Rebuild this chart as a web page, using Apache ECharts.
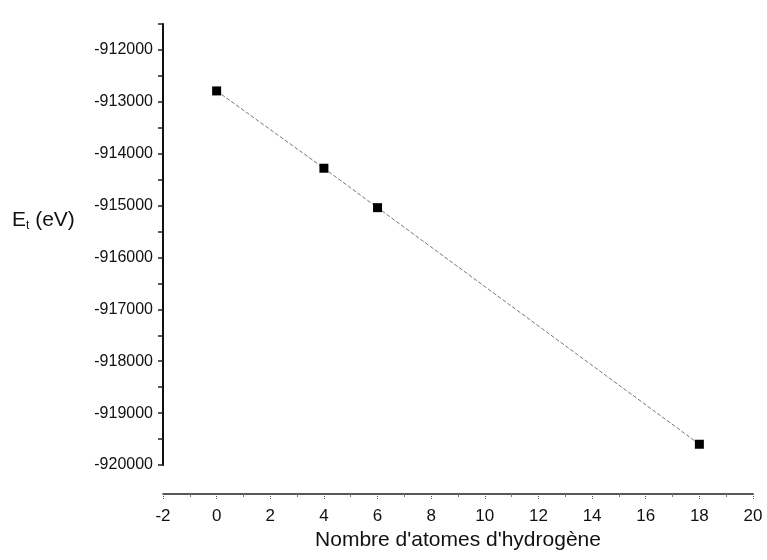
<!DOCTYPE html>
<html>
<head>
<meta charset="utf-8">
<script src="https://cdn.jsdelivr.net/npm/echarts@6/dist/echarts.min.js"></script>
<style>
html,body{margin:0;padding:0;background:#fff;}
#main{width:767px;height:560px;}
</style>
</head>
<body>
<div id="main"></div>
<script>
// Data
var hydrogenCount = [0, 4, 6, 18];
var totalEnergy = [-912790, -914280, -915040, -919600];
var xTicks = [-2, 0, 2, 4, 6, 8, 10, 12, 14, 16, 18, 20];
var yTicks = [-920000, -919000, -918000, -917000, -916000, -915000, -914000, -913000, -912000];

var font = 'Liberation Sans, Arial, sans-serif';
var chart = echarts.init(document.getElementById('main'), null, {renderer: 'canvas'});

var points = hydrogenCount.map(function (x, i) { return [x, totalEnergy[i]]; });

chart.setOption({
  backgroundColor: '#fff',
  animation: false,
  grid: {left: 163, right: 14, top: 24, bottom: 95, containLabel: false},
  xAxis: {
    type: 'value',
    min: xTicks[0],
    max: xTicks[xTicks.length - 1],
    interval: 2,
    offset: 29,
    name: "Nombre d'atomes d'hydrogène",
    nameLocation: 'middle',
    nameGap: 36,
    nameTextStyle: {fontFamily: font, fontSize: 21, color: '#111', verticalAlign: 'top'},
    axisLine: {show: true, onZero: false, lineStyle: {color: '#222', width: 1.5}},
    axisTick: {show: true, inside: false, length: 5, lineStyle: {color: '#555', width: 1, type: 'dotted'}},
    minorTick: {show: true, splitNumber: 2, length: 3, lineStyle: {color: '#777'}},
    axisLabel: {fontFamily: font, fontSize: 17, color: '#111', margin: 14},
    splitLine: {show: false}
  },
  yAxis: {
    type: 'value',
    min: yTicks[0],
    max: -911500,
    interval: 500,
    axisLine: {show: true, onZero: false, lineStyle: {color: '#111', width: 2}},
    axisTick: {show: true, inside: false, length: 5, lineStyle: {color: '#222', width: 1.5}},
    axisLabel: {
      fontFamily: font, fontSize: 16, color: '#111', margin: 10,
      formatter: function (v) { return yTicks.indexOf(v) >= 0 ? String(v) : ''; }
    },
    splitLine: {show: false}
  },
  graphic: [{
    type: 'text',
    left: 12,
    top: 210,
    style: {
      rich: {
        e: {fontFamily: font, fontSize: 21, fill: '#111'},
        s: {fontFamily: font, fontSize: 12, fill: '#111', verticalAlign: 'bottom', padding: [10, 0, 0, 0]}
      },
      text: '{e|E}{s|t}{e| (eV)}'
    }
  }],
  series: [{
    type: 'line',
    data: points,
    symbol: 'rect',
    symbolSize: 9,
    itemStyle: {color: '#000'},
    lineStyle: {color: '#777', width: 1, type: [4, 2]}
  }]
});
</script>
</body>
</html>
